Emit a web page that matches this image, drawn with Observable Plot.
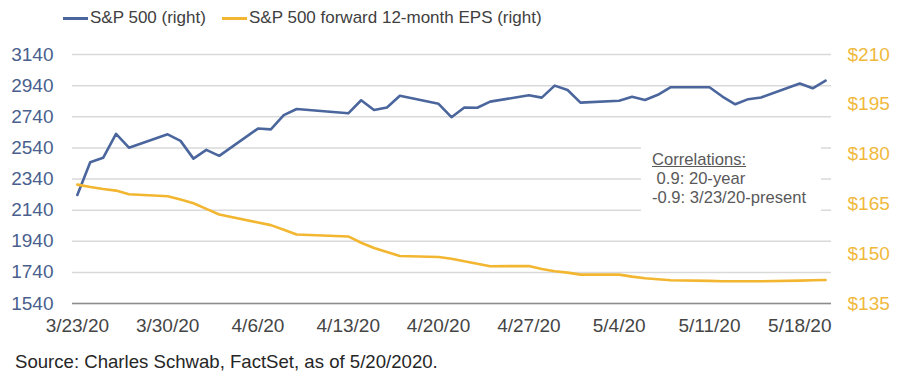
<!DOCTYPE html>
<html>
<head>
<meta charset="utf-8">
<script src="https://cdn.jsdelivr.net/npm/d3@7"></script>
<script src="https://cdn.jsdelivr.net/npm/@observablehq/plot@0.6"></script>
<style>
  html, body { margin: 0; padding: 0; background: #fff; }
  body { width: 900px; height: 384px; position: relative; overflow: hidden;
         font-family: "Liberation Sans", Arial, sans-serif; }
  #chart { position: absolute; left: 0; top: 36px; }
  .leg { position: absolute; top: 8px; font-size: 17px; color: #404040; line-height: 20px; white-space: nowrap; }
  .sw { position: absolute; top: 17px; height: 3px; }
  #note { position: absolute; left: 641px; top: 143px; width: 180px; height: 72px; background: #fff;
          font-size: 16.6px; color: #595959; line-height: 19px; }
  #note div { position: absolute; left: 11px; white-space: pre; }
  #caption { position: absolute; left: 15px; top: 351px; font-size: 18.6px; color: #262626; white-space: nowrap; }
</style>
</head>
<body>
<div class="sw" style="left:63px;width:25px;background:#4a669d"></div>
<div class="leg" style="left:90px">S&amp;P 500 (right)</div>
<div class="sw" style="left:222px;width:25px;background:#f2b630"></div>
<div class="leg" style="left:249px">S&amp;P 500 forward 12-month EPS (right)</div>
<div id="chart"></div>
<div id="note">
  <div style="top:7px;text-decoration:underline">Correlations:</div>
  <div style="top:26px"> 0.9: 20-year</div>
  <div style="top:45px">-0.9: 3/23/20-present</div>
</div>
<div id="caption">Source: Charles Schwab, FactSet, as of 5/20/2020.</div>
<script>
const dates = ["2020-03-23","2020-03-24","2020-03-25","2020-03-26","2020-03-27",
  "2020-03-30","2020-03-31","2020-04-01","2020-04-02","2020-04-03",
  "2020-04-06","2020-04-07","2020-04-08","2020-04-09",
  "2020-04-13","2020-04-14","2020-04-15","2020-04-16","2020-04-17",
  "2020-04-20","2020-04-21","2020-04-22","2020-04-23","2020-04-24",
  "2020-04-27","2020-04-28","2020-04-29","2020-04-30","2020-05-01",
  "2020-05-04","2020-05-05","2020-05-06","2020-05-07","2020-05-08",
  "2020-05-11","2020-05-12","2020-05-13","2020-05-14","2020-05-15",
  "2020-05-18","2020-05-19","2020-05-20"];
const spx = [2237, 2447, 2476, 2630, 2541,
  2627, 2585, 2471, 2527, 2489,
  2664, 2659, 2750, 2790,
  2762, 2846, 2783, 2800, 2875,
  2823, 2737, 2799, 2798, 2837,
  2878, 2863, 2940, 2912, 2831,
  2843, 2868, 2848, 2881, 2930,
  2930, 2870, 2820, 2853, 2864,
  2954, 2923, 2972];
const eps = [170.8, 170.1, 169.5, 169.0, 167.9,
  167.3, 166.3, 165.2, 163.5, 161.8,
  159.4, 158.6, 157.2, 155.8,
  155.2, 153.3, 151.7, 150.5, 149.3,
  149.0, 148.5, 147.7, 147.0, 146.2,
  146.3, 145.4, 144.7, 144.3, 143.7,
  143.7, 143.1, 142.6, 142.3, 142.0,
  141.8, 141.7, 141.7, 141.7, 141.7,
  141.9, 142.0, 142.1];
const leftTicks = [1540, 1740, 1940, 2140, 2340, 2540, 2740, 2940, 3140];
const rightTicks = [135, 150, 165, 180, 195, 210];
const xTickLabels = ["2020-03-23","2020-03-30","2020-04-06","2020-04-13","2020-04-20","2020-04-27","2020-05-04","2020-05-11","2020-05-18"];

const parse = d3.utcParse("%Y-%m-%d");
const leftDomain = [1540, 3140];
const rightDomain = [135, 210];
const toLeft = v => leftDomain[0] + (v - rightDomain[0]) / (rightDomain[1] - rightDomain[0]) * (leftDomain[1] - leftDomain[0]);
const fromLeft = v => rightDomain[0] + (v - leftDomain[0]) / (leftDomain[1] - leftDomain[0]) * (rightDomain[1] - rightDomain[0]);

const spxData = dates.map((d, i) => ({date: parse(d), value: spx[i]}));
const epsData = dates.map((d, i) => ({date: parse(d), value: toLeft(eps[i])}));
const fmt = d3.utcFormat("%-m/%-d/%y");

const chart = Plot.plot({
  width: 900,
  height: 316,
  marginLeft: 72,
  marginRight: 69,
  marginTop: 18,
  marginBottom: 49,
  style: {fontFamily: "'Liberation Sans', Arial, sans-serif", fontSize: "19px", background: "transparent"},
  x: {type: "utc", domain: [new Date(Date.UTC(2020, 2, 22, 15)), new Date(Date.UTC(2020, 4, 20, 11))]},
  y: {domain: leftDomain},
  marks: [
    Plot.gridY(leftTicks, {stroke: "#d9d9d9", strokeOpacity: 1, strokeWidth: 1.5}),
    Plot.ruleY([leftDomain[0]], {stroke: "#8c8c8c", strokeWidth: 1.5}),
    Plot.axisY({anchor: "left", ticks: leftTicks, tickSize: 0, tickPadding: 19, tickFormat: d => String(d), color: "#4a5f8e", label: null}),
    Plot.axisY({anchor: "right", ticks: rightTicks.map(toLeft), tickSize: 0, tickPadding: 16,
      tickFormat: d => "$" + Math.round(fromLeft(d)), color: "#f0b93c", label: null}),
    Plot.axisX({ticks: xTickLabels.map(parse), tickSize: 0, tickPadding: 15, tickFormat: fmt, color: "#454545", label: null}),
    Plot.line(spxData, {x: "date", y: "value", stroke: "#4a669d", strokeWidth: 2.6}),
    Plot.line(epsData, {x: "date", y: "value", stroke: "#f2b630", strokeWidth: 2.6})
  ]
});
document.getElementById("chart").appendChild(chart);
</script>
</body>
</html>
